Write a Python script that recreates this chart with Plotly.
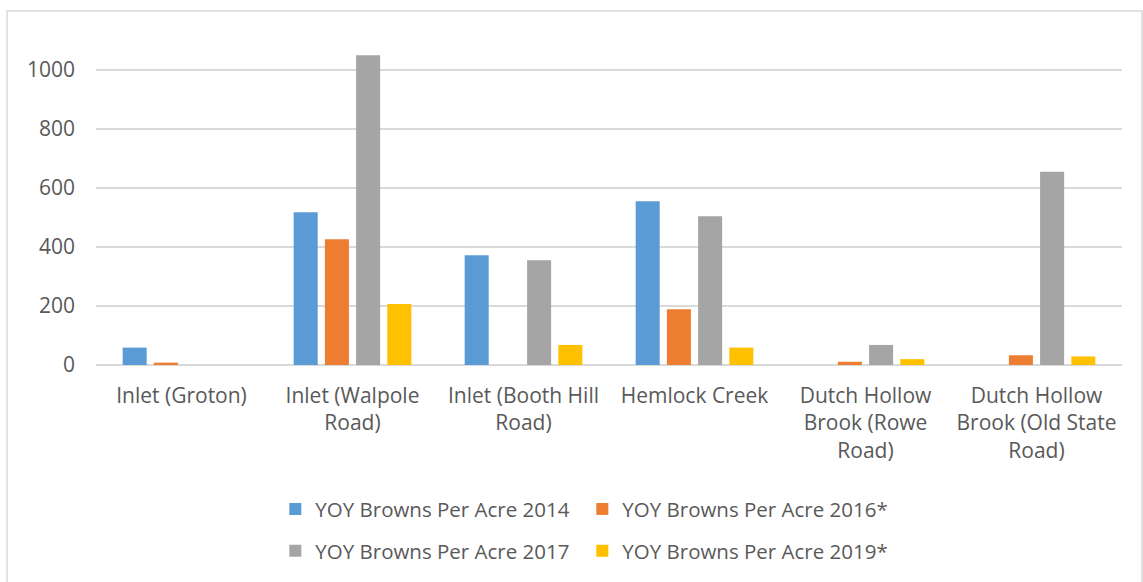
import plotly.graph_objects as go

categories = ["Inlet (Groton)", "Inlet (Walpole Road)", "Inlet (Booth Hill Road)",
              "Hemlock Creek", "Dutch Hollow Brook (Rowe Road)", "Dutch Hollow Brook (Old State Road)"]
tick_labels = ["Inlet (Groton)", "Inlet (Walpole<br>Road)", "Inlet (Booth Hill<br>Road)",
               "Hemlock Creek", "Dutch Hollow<br>Brook (Rowe<br>Road)", "Dutch Hollow<br>Brook (Old State<br>Road)"]

series_names = ["YOY Browns Per Acre 2014", "YOY Browns Per Acre 2016*",
                "YOY Browns Per Acre 2017", "YOY Browns Per Acre 2019*"]
v2014 = [59, 518, 372, 555, None, None]
v2016 = [8, 426, None, 189, 11, 33]
v2017 = [None, 1050, 355, 504, 68, 655]
v2019 = [None, 207, 68, 59, 20, 29]
values = [v2014, v2016, v2017, v2019]
colors = ["#5B9BD5", "#ED7D31", "#A5A5A5", "#FFC000"]
legend_ids = ["legend", "legend", "legend2", "legend2"]

FONT = "Open Sans"
TXT = "#595959"
FS = 21

fig = go.Figure()
for name, vals, col, lg in zip(series_names, values, colors, legend_ids):
    fig.add_trace(go.Bar(x=categories, y=vals, name=name, marker_color=col,
                         marker_line_width=0, legend=lg))

leg_common = dict(orientation="h", xanchor="center", x=0.474, yanchor="middle",
                  font=dict(family=FONT, size=20.5, color=TXT), bgcolor="rgba(0,0,0,0)",
                  entrywidth=262, itemwidth=30, tracegroupgap=0)

fig.update_layout(
    width=1143, height=582,
    margin=dict(l=96, r=21, t=11, b=217),
    paper_bgcolor="white", plot_bgcolor="white",
    barmode="group", bargap=0.27, bargroupgap=0.23,
    font=dict(family=FONT, size=FS, color=TXT),
    legend=dict(y=-0.407, **leg_common),
    legend2=dict(y=-0.525, **leg_common),
    xaxis=dict(tickvals=categories, ticktext=tick_labels, showgrid=False, showline=False,
               ticks="", ticklabelstandoff=16,
               tickfont=dict(family=FONT, size=FS, color=TXT), tickangle=0),
    yaxis=dict(range=[0, 1200], tickvals=[0, 200, 400, 600, 800, 1000],
               showgrid=True, gridcolor="#d9d9d9", gridwidth=1.5, zeroline=True,
               zerolinecolor="#d9d9d9", zerolinewidth=1.5, showline=False, ticks="",
               ticklabelstandoff=20, tickfont=dict(family=FONT, size=FS, color=TXT)),
    shapes=[dict(type="rect", xref="paper", yref="paper", x0=-0.0867, x1=1.0195,
                 y0=-0.66, y1=1.0, line=dict(color="#d9d9d9", width=1.5), layer="below")],
)

fig.write_html("out.html", config={"displayModeBar": False},
               post_script="document.body.style.margin='0';")
